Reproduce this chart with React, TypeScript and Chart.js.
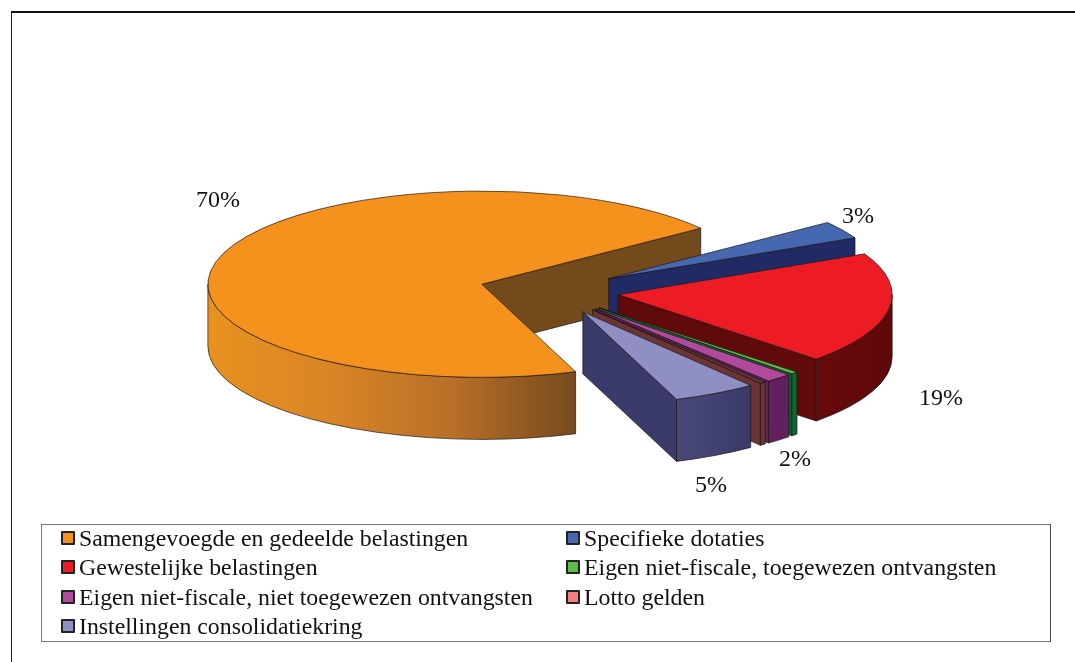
import React, { useEffect, useRef } from "react";
import { Chart, registerables } from "chart.js";

Chart.register(...registerables);

// ---- data ----
const categories = [
  "Samengevoegde en gedeelde belastingen",
  "Specifieke dotaties",
  "Gewestelijke belastingen",
  "Eigen niet-fiscale, toegewezen ontvangsten",
  "Eigen niet-fiscale, niet toegewezen ontvangsten",
  "Lotto gelden",
  "Instellingen consolidatiekring",
];
const shares = [70.28, 3.06, 19.36, 0.42, 1.58, 0.36, 4.94];
const shareLabels = ["70%", "3%", "19%", "2%", "", "", "5%"];

// ---- styles ----
const topColors = ["#F5921E", "#4668B1", "#ED1C24", "#5DBB46", "#B14A9C", "#6B3535", "#8F8FC4"];
const legendColors = ["#F5921E", "#4668B1", "#ED1C24", "#5DBB46", "#B14A9C", "#F08080", "#8F8FC4"];
const faceColors = ["#734A1C", "#202B66", "#610A0C", "#0F6030", "#60215F", "#6B3535", "#3A3B6B"];
const rimStops: string[][] = [
  ["#E8921F", "#D98526", "#B86F28", "#774A1D"],
  ["#202B66", "#202B66"],
  ["#680A0C", "#5E0809"],
  ["#0F6B30", "#0F6030"],
  ["#62205F", "#62205F"],
  ["#6B3535", "#6B3535"],
  ["#4A4A78", "#393A67"],
];
const labelSpots = [
  [218, 201],
  [858, 217],
  [941, 399],
  [795, 460],
  null,
  null,
  [711, 486],
];

const RADIUS = 274;
const EXPLODE = 70;
const SQUASH = 0.34;
const DEPTH = 62;
const CENTER_Y = 291;
const EDGE = "rgba(25,20,20,0.85)";

const toScreen = (chart: any, y: number) => {
  const a = chart.chartArea;
  const cy0 = (a.top + a.bottom) / 2;
  return CENTER_Y + (y - cy0) * SQUASH;
};

const pie3d = {
  id: "pie3d",
  afterDatasetsUpdate(chart: any) {
    for (const arc of chart.getDatasetMeta(0).data) {
      const mid = (arc.startAngle + arc.endAngle) / 2;
      arc.x += Math.cos(mid) * EXPLODE;
      arc.y += Math.sin(mid) * EXPLODE;
    }
  },
  beforeDatasetsDraw(chart: any) {
    const ctx = chart.ctx;
    const arcs = chart.getDatasetMeta(0).data;
    const TAU = Math.PI * 2;
    arcs.forEach((arc: any, i: number) => {
      const sx = arc.x;
      const sy = toScreen(chart, arc.y);
      const px = (a: number) => sx + arc.outerRadius * Math.cos(a);
      const py = (a: number) => sy + arc.outerRadius * SQUASH * Math.sin(a);
      const a0 = arc.startAngle;
      const a1 = arc.endAngle;
      const face = (a: number) => {
        ctx.beginPath();
        ctx.moveTo(sx, sy);
        ctx.lineTo(px(a), py(a));
        ctx.lineTo(px(a), py(a) + DEPTH);
        ctx.lineTo(sx, sy + DEPTH);
        ctx.closePath();
        ctx.fillStyle = faceColors[i];
        ctx.fill();
        ctx.lineWidth = 0.8;
        ctx.strokeStyle = EDGE;
        ctx.stroke();
      };
      if (Math.sin(a0 - Math.PI / 2) > 0) face(a0);
      if (Math.sin(a1 + Math.PI / 2) > 0) face(a1);
      // outer rim: the part of the arc that faces the viewer
      for (const k of [-1, 0, 1, 2]) {
        const from = Math.max(a0, k * TAU);
        const to = Math.min(a1, k * TAU + Math.PI);
        if (to <= from) continue;
        const xa = Math.min(px(from), px(to));
        const xb = Math.max(px(from), px(to));
        const g = ctx.createLinearGradient(xa, 0, xb, 0);
        const st = rimStops[i];
        st.forEach((c, n) => g.addColorStop(n / (st.length - 1), c));
        ctx.beginPath();
        ctx.ellipse(sx, sy, arc.outerRadius, arc.outerRadius * SQUASH, 0, from, to);
        ctx.lineTo(px(to), py(to) + DEPTH);
        ctx.ellipse(sx, sy + DEPTH, arc.outerRadius, arc.outerRadius * SQUASH, 0, to, from, true);
        ctx.closePath();
        ctx.fillStyle = g;
        ctx.fill();
        ctx.lineWidth = 0.8;
        ctx.strokeStyle = EDGE;
        ctx.stroke();
      }
    });
    // flatten the library's arcs into the tilted top surface
    const a = chart.chartArea;
    const cy0 = (a.top + a.bottom) / 2;
    ctx.save();
    ctx.translate(0, CENTER_Y - cy0 * SQUASH);
    ctx.scale(1, SQUASH);
  },
  afterDatasetsDraw(chart: any) {
    const ctx = chart.ctx;
    ctx.restore();
    const arcs = chart.getDatasetMeta(0).data;
    arcs.forEach((arc: any) => {
      const sx = arc.x;
      const sy = toScreen(chart, arc.y);
      ctx.beginPath();
      ctx.moveTo(sx, sy);
      ctx.ellipse(sx, sy, arc.outerRadius, arc.outerRadius * SQUASH, 0, arc.startAngle, arc.endAngle);
      ctx.closePath();
      ctx.lineWidth = 0.8;
      ctx.strokeStyle = EDGE;
      ctx.stroke();
    });
    ctx.fillStyle = "#111";
    ctx.font = '24px "Liberation Serif"';
    ctx.textAlign = "center";
    ctx.textBaseline = "middle";
    shareLabels.forEach((t, i) => {
      const spot = labelSpots[i];
      if (t && spot) ctx.fillText(t, spot[0], spot[1]);
    });
  },
};

const legendRows = [538, 567, 597, 626];
const legendCols = [61, 566];

export default function App() {
  const ref = useRef<HTMLCanvasElement | null>(null);
  useEffect(() => {
    const chart = new Chart(ref.current as HTMLCanvasElement, {
      type: "pie",
      data: {
        labels: categories,
        datasets: [
          {
            data: shares,
            backgroundColor: topColors,
            borderWidth: 0,
            clip: false,
          } as any,
        ],
      },
      options: {
        responsive: false,
        animation: false,
        rotation: 160,
        radius: RADIUS,
        layout: { padding: { left: 23 } },
        events: [],
        plugins: { legend: { display: false }, tooltip: { enabled: false } },
      } as any,
      plugins: [pie3d as any],
    });
    return () => chart.destroy();
  }, []);

  return (
    <div style={{ position: "absolute", left: 0, top: 0, width: 1075, height: 662, background: "#fff", overflow: "hidden" }}>
      <canvas ref={ref} width={1075} height={662} style={{ display: "block", position: "absolute", left: 0, top: 0 }} />
      <div style={{ position: "absolute", left: 11, top: 11, width: 1064, height: 651, boxSizing: "border-box", borderTop: "2px solid #111", borderLeft: "1.5px solid #222" }} />
      <div style={{ position: "absolute", left: 41, top: 524, width: 1010, height: 118, boxSizing: "border-box", border: "1.5px solid #777", borderRightColor: "#444" }} />
      {categories.map((name, i) => {
        const col = legendCols[i % 2];
        const row = legendRows[Math.floor(i / 2)];
        return (
          <React.Fragment key={name}>
            <div style={{ position: "absolute", left: col, top: row - 7, width: 14, height: 14, boxSizing: "border-box", background: legendColors[i], border: "2px solid #222", borderRadius: 1 }} />
            <div style={{ position: "absolute", left: col + 18, top: row - 15, whiteSpace: "nowrap", font: '23.8px/30px "Liberation Serif"', color: "#111" }}>{name}</div>
          </React.Fragment>
        );
      })}
    </div>
  );
}
